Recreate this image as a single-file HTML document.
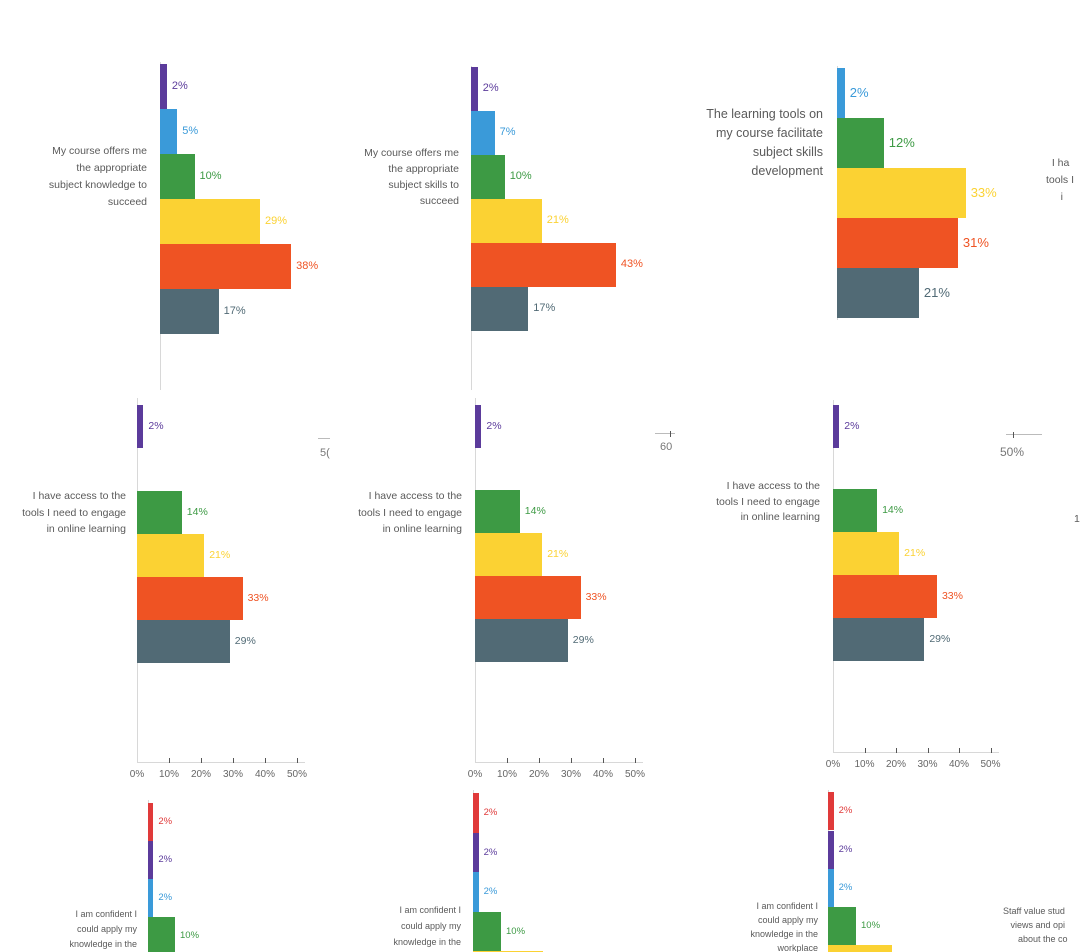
<!DOCTYPE html>
<html style="width:1081px;height:952px;overflow:hidden"><head><meta charset="utf-8">
<style>
html,body{overflow:hidden}
body{margin:0;width:1081px;height:952px;overflow:hidden;background:#fff;font-family:"Liberation Sans",sans-serif;position:relative}
.a{position:absolute}
.lbl{position:absolute;color:#5a5a5a;text-align:right;white-space:nowrap}
.axis{position:absolute;background:#d8d8d8}
.val{position:absolute;white-space:nowrap}
.tk{position:absolute;font-size:10px;color:#666;transform:translateX(-50%)}
</style></head><body>
<script>
const colors={red:'#e03a3a',purple:'#5b3b9b',blue:'#3a9ad9',green:'#3d9a44',yellow:'#fbd233',orange:'#ef5323',slate:'#516a75'};
// Panel data (values in %)
const seriesA=['purple','blue','green','yellow','orange','slate'];
const valuesA=[2,5,10,29,38,17];
const seriesB=['purple','blue','green','yellow','orange','slate'];
const valuesB=[2,7,10,21,43,17];
const seriesC=['blue','green','yellow','orange','slate'];
const valuesC=[2,12,33,31,21];
const seriesD=['purple','green','yellow','orange','slate'];
const valuesD=[2,14,21,33,29];
const valuesE=[2,14,21,33,29];
const valuesF=[2,14,21,33,29];
const seriesG=['red','purple','blue','green','yellow'];
const valuesG=[2,2,2,10,0];
const valuesH=[2,2,2,10,25];
const valuesI=[2,2,2,10,23];
const tickLabels=['0%','10%','20%','30%','40%','50%'];

function panel(name,ax,axTop,axBot,rowsTop,rowH,gaps,scale,series,values,fs,labelLines,labelRight,labelTop,labelFs,labelLh,xAxis){
  const ax1=document.createElement('div');ax1.className='axis';
  
  
  ax1.style.cssText=`left:${ax}px;top:${axTop}px;width:1px;height:${Math.min(axBot,952)-axTop}px`;
  document.body.appendChild(ax1);
  let y=rowsTop;
  series.forEach((s,i)=>{
    y+= (gaps[i]||0);
    const w=values[i]*scale;
    const h=Math.max(0,Math.min(rowH,952-y));
    const b=document.createElement('div');b.className='a';
    
    
    b.style.cssText=`left:${ax}px;top:${y}px;width:${w}px;height:${h}px;background:${colors[s]}`;
    document.body.appendChild(b);
    if(values[i]>0 && y+rowH/2<945){
    const v=document.createElement('div');v.className='val';
    
    
    v.textContent=values[i]+'%';
    v.style.cssText=`left:${ax+w+5}px;top:${y+rowH/2-fs*0.6}px;font-size:${fs}px;color:${colors[s]}`;
    document.body.appendChild(v);}
    y+=rowH;
  });
  const l=document.createElement('div');l.className='lbl';
  
  
  l.innerHTML=labelLines.join('<br>');
  l.style.cssText=`right:${1081-labelRight}px;top:${labelTop}px;font-size:${labelFs}px;line-height:${labelLh}px`;
  document.body.appendChild(l);
  if(xAxis){
    const xa=document.createElement('div');xa.className='axis';
    
    
    xa.style.cssText=`left:${ax}px;top:${axBot}px;width:${50*scale+8}px;height:1px`;
    document.body.appendChild(xa);
    tickLabels.forEach((t,i)=>{
      const x=ax+i*10*scale;
      if(i>0){const m=document.createElement('div');m.className='a';
      
      
      m.style.cssText=`left:${x}px;top:${axBot-4}px;width:1px;height:5px;background:#555`;
      document.body.appendChild(m);}
      const d=document.createElement('div');d.className='tk';
      
      
      d.textContent=t;d.style.left=x+'px';d.style.top=(axBot+7)+'px';
      document.body.appendChild(d);
    });
  }
}
panel('chart-a',160,62,390,64,45,[],3.45,seriesA,valuesA,11,['My course offers me','the appropriate','subject knowledge to','succeed'],147,143,10.5,17,false);
panel('chart-b',471,66,390,67,44,[],3.37,seriesB,valuesB,11,['My course offers me','the appropriate','subject skills to','succeed'],459,145,10.5,16,false);
panel('chart-c',837,66,320,68,50,[],3.9,seriesC,valuesC,13,['The learning tools on','my course facilitate','subject skills','development'],823,105,12.5,19,false);
panel('chart-d',137,398,762,405,43,[0,43],3.2,seriesD,valuesD,10.5,['I have access to the','tools I need to engage','in online learning'],126,488,10.5,16.5,true);
panel('chart-e',475,398,762,405,43,[0,42],3.2,seriesD,valuesE,10.5,['I have access to the','tools I need to engage','in online learning'],462,488,10.5,16.5,true);
panel('chart-f',833,400,752,405,43,[0,41],3.15,seriesD,valuesF,10.5,['I have access to the','tools I need to engage','in online learning'],820,479,10.5,15.5,true);
panel('chart-g',148,800,960,803,38,[],2.7,seriesG,valuesG,9.5,['I am confident I','could apply my','knowledge in the'],137,907,9,15,false);
panel('chart-h',473,790,960,793,39.5,[],2.8,seriesG,valuesH,9.5,['I am confident I','could apply my','knowledge in the','workplace'],461,902,9,16,false);
panel('chart-i',828,790,960,792,38,[0,1],2.8,seriesG,valuesI,9.5,['I am confident I','could apply my','knowledge in the','workplace'],818,899,9,14,false);
</script>
<div class="a" style="left:318px;top:438px;width:12px;height:1px;background:#bbb"></div>
<div class="a" style="left:320px;top:447px;font-size:11px;color:#777">5(</div>
<div class="a" style="left:655px;top:433px;width:20px;height:1px;background:#bbb"></div>
<div class="a" style="left:670px;top:431px;width:1px;height:6px;background:#555"></div>
<div class="a" style="left:660px;top:441px;font-size:11px;color:#777">60</div>
<div class="a" style="left:1006px;top:434px;width:36px;height:1px;background:#bbb"></div>
<div class="a" style="left:1013px;top:432px;width:1px;height:6px;background:#555"></div>
<div class="a" style="left:1000px;top:445px;font-size:12px;color:#777">50%</div>
<div class="lbl" style="left:1046px;top:155px;font-size:10.5px;line-height:17px;text-align:left">&nbsp;&nbsp;I ha<br>tools I<br>&nbsp;&nbsp;&nbsp;&nbsp;&nbsp;i</div>
<div class="lbl" style="left:1074px;top:513px;font-size:10.5px;text-align:left">1</div>
<div class="lbl" style="left:1003px;top:904px;font-size:9px;line-height:14px;text-align:left">Staff value stud<br>&nbsp;&nbsp;&nbsp;views and opi<br>&nbsp;&nbsp;&nbsp;&nbsp;&nbsp;&nbsp;about the co</div>
</body></html>
